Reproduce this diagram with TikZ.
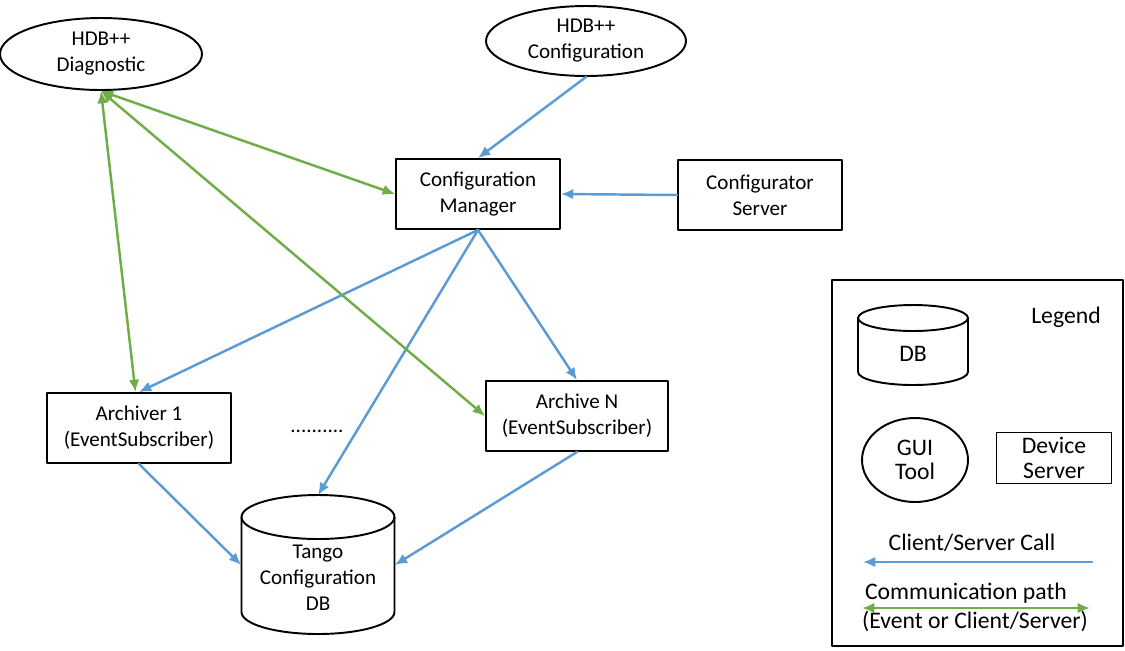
\documentclass[tikz,border=0pt]{standalone}
\usepackage{fontspec}
\setmainfont{Carlito}
\usetikzlibrary{arrows.meta,shapes.geometric}
\definecolor{callblue}{RGB}{91,155,213}
\definecolor{pathgreen}{RGB}{112,173,71}
\begin{document}
\begin{tikzpicture}[x=0.02cm, y=-0.02cm, font=\fontsize{12}{14.8}\selectfont, line join=round, line cap=round,
	box/.style={draw, line width=1.1pt, rectangle, align=center, inner sep=0pt},
	tool/.style={draw, line width=1.1pt, ellipse, align=center, inner sep=0pt},
	dbarea/.style={rectangle, inner sep=0pt},
	outline/.style={line width=1.1pt},
	leg/.style={font=\fontsize{13.5}{16}\selectfont},
	call/.style={callblue, line width=1.4pt, -{Latex[length=7pt,width=6pt]}},
	comm/.style={pathgreen, line width=1.4pt, {Latex[length=7pt,width=6pt]}-{Latex[length=7pt,width=6pt]}}]
			\useasboundingbox (0,0) rectangle (1125,650);
			\node [tool, minimum width=4.04cm, minimum height=1.44cm] (diag) at (101,54) {HDB++\\Diagnostic};
			\node [tool, minimum width=4cm, minimum height=1.4cm] (hcfg) at (586,41) {HDB++\\Configuration};
			\node [box, minimum width=3.28cm, minimum height=1.4cm] (cm) at (478,194) {Configuration\\Manager};
			\node [box, minimum width=3.28cm, minimum height=1.4cm] (csrv) at (760,195) {Configurator\\Server};
			\node [box, minimum width=3.68cm, minimum height=1.4cm] (arch1) at (139,428) {Archiver 1\\(EventSubscriber)};
			\node [box, minimum width=3.64cm, minimum height=1.4cm] (archN) at (577,416) {Archive N\\(EventSubscriber)};
			\node (dots) at (317,431) {..........};
			% tango db cylinder
			\node [dbarea, minimum width=3.06cm, minimum height=2.78cm] (tango) at (318,565) {};
			\draw [outline] (318,517) ellipse [x radius=1.53cm, y radius=0.44cm];
			\draw [outline] (241.5,517) -- (241.5,612) arc [start angle=180, end angle=360, x radius=1.53cm, y radius=0.44cm] -- (394.5,517);
			\node [align=center] (tangotxt) at (318,578) {Tango\\Configuration\\DB};
			% client/server calls
			\draw [call] (hcfg.south) -- (cm.north);
			\draw [call] (csrv.west) -- (cm.east);
			\draw [call] (cm.south) -- (arch1.north);
			\draw [call] (cm.south) -- (archN.north);
			\draw [call] (cm.south) -- (tango.north);
			\draw [call] (arch1.south) -- (tango.west);
			\draw [call] (archN.south) -- (tango.east);
			% communication paths
			\draw [comm] (diag.south) -- (cm.west);
			\draw [comm] (diag.south) -- ([xshift=-2pt]arch1.north);
			\draw [comm] (diag.south) -- (archN.west);
			% legend
			\node [draw, line width=1.1pt, minimum width=5.82cm, minimum height=7.32cm] (legend) at (977.5,463) {};
			\node [leg] (ltitle) at (1066,317) {Legend};
			\node [dbarea, minimum width=2.2cm, minimum height=1.6cm] (ldb) at (913,345) {};
			\draw [outline] (913,318) ellipse [x radius=1.1cm, y radius=0.26cm];
			\draw [outline] (858,318) -- (858,372) arc [start angle=180, end angle=360, x radius=1.1cm, y radius=0.26cm] -- (968,318);
			\node [leg] (ldbtxt) at (913,354) {DB};
			\node [tool, leg, minimum width=2.12cm, minimum height=1.68cm] (lgui) at (915,460) {GUI\\[-2pt]Tool};
			\node [box, leg, minimum width=2.3cm, minimum height=1.02cm] (ldsrv) at (1054,458) {Device\\[-2pt]Server};
			\node [leg] (lcall) at (972,543) {Client/Server Call};
			\coordinate (callA) at (1092,562);
			\coordinate (callB) at (863,562);
			\draw [call] (callA) -- (callB);
			\node [leg] (lcomm) at (966,593) {Communication path};
			\coordinate (commA) at (862,608);
			\coordinate (commB) at (1090,608);
			\draw [comm] (commA) -- (commB);
			\node [leg] (lcomm2) at (975,621) {(Event or Client/Server)};
		\end{tikzpicture}
\end{document}
